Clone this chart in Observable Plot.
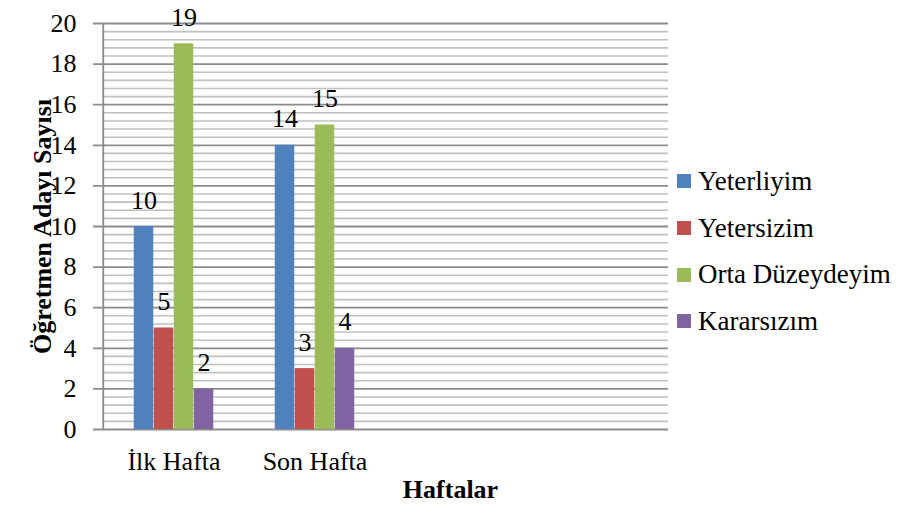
<!DOCTYPE html>
<html>
<head>
<meta charset="utf-8">
<script src="https://cdn.jsdelivr.net/npm/d3@7"></script>
<script src="https://cdn.jsdelivr.net/npm/@observablehq/plot@0.6"></script>
<style>
  html, body { margin: 0; padding: 0; background: #fff; }
  #wrap { position: relative; width: 898px; height: 506px; }
  #legend { position: absolute; left: 677px; top: 158px; font-family: 'Liberation Serif', 'Times New Roman', serif; font-size: 27px; color: #000; }
  .row { display: flex; align-items: center; height: 46.7px; white-space: nowrap; }
  .sw { width: 14px; height: 14px; margin-right: 7px; flex: none; }
</style>
</head>
<body>
<div id="wrap"></div>
<script>
// ---- data ----
const weeks = ["İlk Hafta", "Son Hafta"];
const emptyBands = [" ", "  "];
const series = ["Yeterliyim", "Yetersizim", "Orta Düzeydeyim", "Kararsızım"];
const ilkHafta = [10, 5, 19, 2];
const sonHafta = [14, 3, 15, 4];
const colors = ["#4F81BD", "#C0504D", "#9BBB59", "#8064A2"];
const yTicks = [0, 2, 4, 6, 8, 10, 12, 14, 16, 18, 20];
const yTitle = "Öğretmen Adayı Sayısı";
const xTitle = "Haftalar";

// ---- layout ----
const W = 898, H = 506;
const ML = 102, MR = 230, MT = 23, MB = 77;
const xDomain = weeks.concat(emptyBands);
const bw = (W - ML - MR) / xDomain.length;
const barW = 20;
const groupPad = (bw - barW * series.length) / 2;
const serif = "'Liberation Serif', 'Times New Roman', serif";

const rows = [];
series.forEach((s, i) => {
  rows.push({week: weeks[0], series: s, value: ilkHafta[i], idx: i});
  rows.push({week: weeks[1], series: s, value: sonHafta[i], idx: i});
});

const minorTicks = d3.range(0, 100).map(k => k * 0.4).filter(v => v <= 20 && Math.abs(v / 2 - Math.round(v / 2)) > 1e-6);

const marks = [
  Plot.ruleY(minorTicks, {stroke: "#c0c0c0", strokeWidth: 1.6}),
  Plot.ruleY(yTicks, {stroke: "#8c8c8c", strokeWidth: 1.8, insetLeft: -9}),
  Plot.ruleX([weeks[0]], {y1: 0, y2: 20, stroke: "#8c8c8c", strokeWidth: 1.8, dx: -bw / 2})
];
series.forEach((s, i) => {
  const d = rows.filter(r => r.idx === i);
  const left = groupPad + barW * i;
  marks.push(Plot.barY(d, {x: "week", y: "value", fill: colors[i], insetLeft: left, insetRight: bw - left - barW}));
  marks.push(Plot.text(d, {x: "week", y: "value", text: r => String(r.value), dx: left + barW / 2 - bw / 2, dy: -18, lineAnchor: "bottom", fontSize: 26, fontFamily: serif, fill: "#000"}));
});
marks.push(Plot.text([yTitle], {frameAnchor: "left", textAnchor: "middle", rotate: -90, dx: -52, lineAnchor: "bottom", fontSize: 26, fontWeight: "bold", fontFamily: serif, fill: "#000"}));
marks.push(Plot.text([xTitle], {frameAnchor: "bottom", textAnchor: "middle", dx: (W - 20) / 2 - (ML + (W - ML - MR) / 2) + 11, dy: 68, lineAnchor: "bottom", fontSize: 26, fontWeight: "bold", fontFamily: serif, fill: "#000"}));

const chart = Plot.plot({
  width: W, height: H,
  marginLeft: ML, marginRight: MR, marginTop: MT, marginBottom: MB,
  style: {fontFamily: serif, fontSize: "26px", color: "#000", background: "#fff", overflow: "visible"},
  x: {domain: xDomain, padding: 0, tickSize: 0, tickPadding: 22, label: null, tickFormat: d => weeks.includes(d) ? d : ""},
  y: {domain: [0, 20], ticks: yTicks, tickSize: 0, tickPadding: 26, label: null, tickFormat: d => String(d)},
  marks
});
document.getElementById("wrap").appendChild(chart);

const legend = document.createElement("div");
legend.id = "legend";
legend.style.fontFamily = serif;
series.forEach((s, i) => {
  const row = document.createElement("div");
  row.className = "row";
  const sw = document.createElement("span");
  sw.className = "sw";
  sw.style.background = colors[i];
  const t = document.createElement("span");
  t.textContent = s;
  row.appendChild(sw); row.appendChild(t);
  legend.appendChild(row);
});
document.getElementById("wrap").appendChild(legend);
</script>
</body>
</html>
